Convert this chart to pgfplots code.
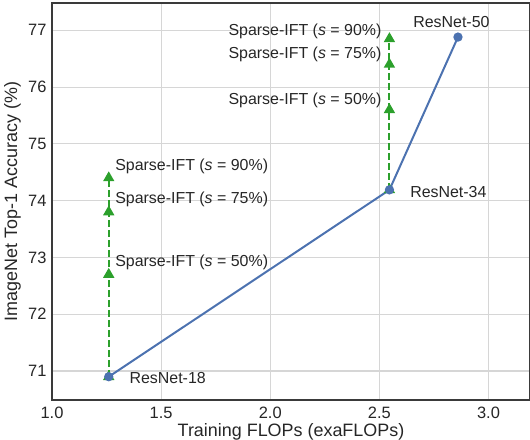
\documentclass[border=0pt]{standalone}
\usepackage{pgfplots}
\pgfplotsset{compat=1.18}
\usepackage{fontspec}
\setmainfont{Liberation Sans}
\definecolor{sblue}{HTML}{4C72B0}
\definecolor{sgreen}{HTML}{2CA02C}
\definecolor{gridc}{HTML}{D6D6D6}
\definecolor{spine}{HTML}{3A3A3A}
\definecolor{txt}{HTML}{262626}
\begin{document}
\begin{tikzpicture}[font=\fontsize{16}{19}\selectfont]
\useasboundingbox (-52bp,-40bp) rectangle (478bp,400bp);
\begin{axis}[
  at={(0,0)}, anchor=south west,
  scale only axis, width=478bp, height=397bp,
  xmin=1.0, xmax=3.19, ymin=70.49, ymax=77.48,
  xtick={1.0,1.5,2.0,2.5,3.0}, ytick={71,72,73,74,75,76,77},
  /pgf/number format/assume math mode=true,
  grid=major, major grid style={gridc, line width=1.1bp},
  axis line style={spine, line width=1.2bp},
  major tick length=0pt,
  tick label style={text=txt, font=\fontsize{16.5}{19}\selectfont},
  xticklabel style={/pgf/number format/fixed, /pgf/number format/fixed zerofill, /pgf/number format/precision=1, yshift=-4bp},
  yticklabel style={xshift=-2bp},
  xlabel={Training FLOPs (exaFLOPs)},
  ylabel={ImageNet Top-1 Accuracy (\%)},
  label style={font=\fontsize{18}{21}\selectfont, text=txt},
  xlabel style={at={(axis description cs:0.5,0)}, anchor=center, yshift=-32bp},
  ylabel style={at={(axis description cs:0,0.5)}, anchor=center, yshift=39.5bp},
  clip=false,
]
\addplot[sgreen, line width=2bp, dash pattern=on 7bp off 3bp, mark=triangle*, mark size=4.6bp, mark options={solid}]
  coordinates {(1.26,70.9) (1.26,72.7) (1.26,73.8) (1.26,74.4)};
\addplot[sgreen, line width=2bp, dash pattern=on 7bp off 3bp, mark=triangle*, mark size=4.6bp, mark options={solid}]
  coordinates {(2.546,74.19) (2.546,75.6) (2.546,76.4) (2.546,76.85)};
\addplot[sblue, line width=2bp, mark=*, mark size=3.6bp]
  coordinates {(1.26,70.9) (2.546,74.19) (2.86,76.88)};

\node[text=txt, anchor=center] at (axis cs:2.83,77.15) {ResNet-50};
\node[text=txt, anchor=center] at (axis cs:2.816,74.16) {ResNet-34};
\node[text=txt, anchor=center] at (axis cs:1.53,70.88) {ResNet-18};

\node[text=txt, anchor=west, inner sep=0pt] at (axis cs:1.289,74.61) {Sparse-IFT (\textit{s} = 90\%)};
\node[text=txt, anchor=west, inner sep=0pt] at (axis cs:1.289,74.03) {Sparse-IFT (\textit{s} = 75\%)};
\node[text=txt, anchor=west, inner sep=0pt] at (axis cs:1.289,72.92) {Sparse-IFT (\textit{s} = 50\%)};

\node[text=txt, anchor=east, inner sep=0pt] at (axis cs:2.51,76.98) {Sparse-IFT (\textit{s} = 90\%)};
\node[text=txt, anchor=east, inner sep=0pt] at (axis cs:2.51,76.57) {Sparse-IFT (\textit{s} = 75\%)};
\node[text=txt, anchor=east, inner sep=0pt] at (axis cs:2.51,75.77) {Sparse-IFT (\textit{s} = 50\%)};
\end{axis}
\end{tikzpicture}
\end{document}
